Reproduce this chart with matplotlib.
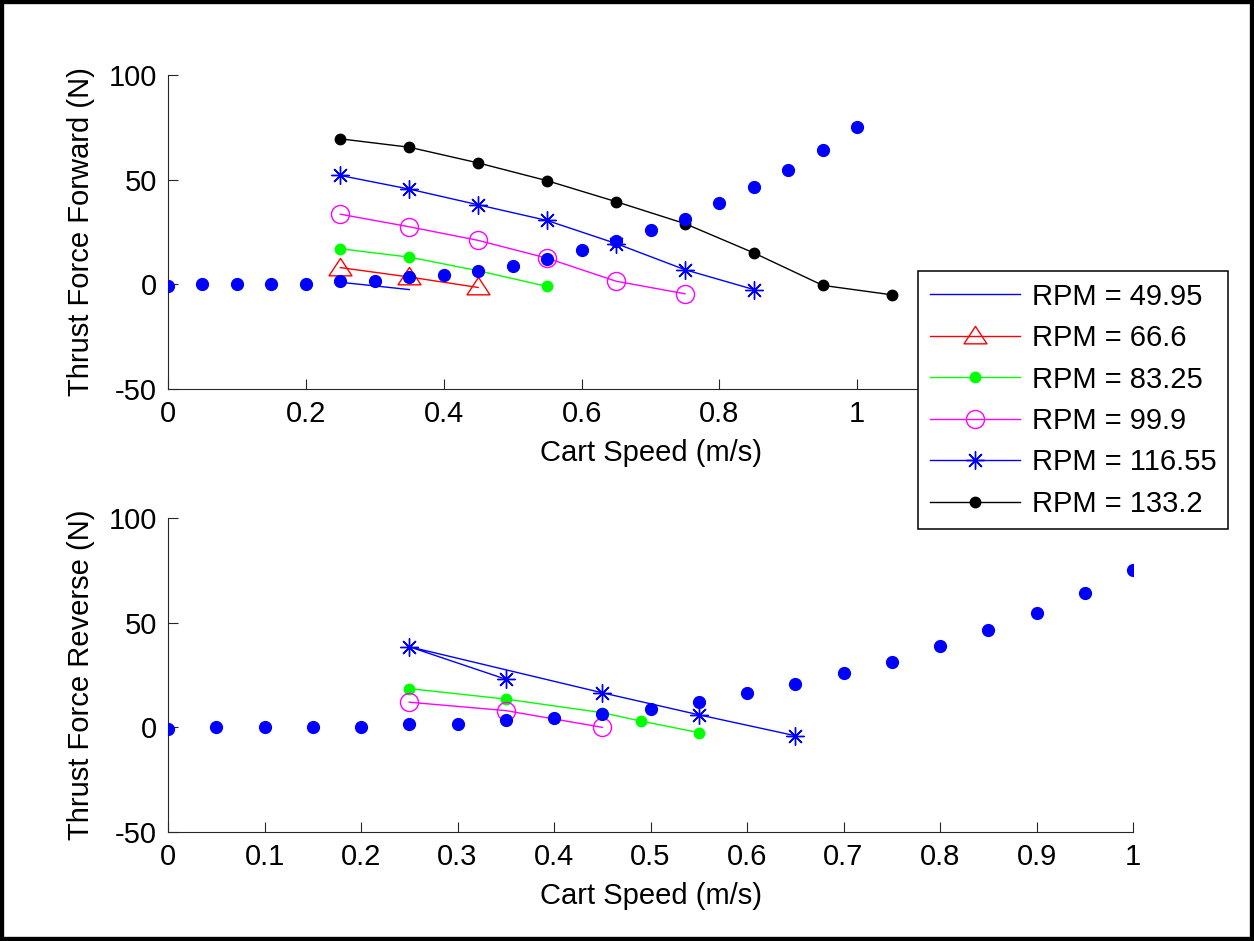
import matplotlib
matplotlib.use("Agg")
import matplotlib.pyplot as plt
from matplotlib.path import Path
from matplotlib.patches import Rectangle
from matplotlib.ticker import FuncFormatter

plt.rcParams["font.family"] = ["Liberation Sans", "DejaVu Sans"]
plt.rcParams["font.size"] = 21

# blue dotted reference curve (same on both panels)
model_speed = [0.0, 0.05, 0.1, 0.15, 0.2, 0.25, 0.3, 0.35, 0.4, 0.45, 0.5,
               0.55, 0.6, 0.65, 0.7, 0.75, 0.8, 0.85, 0.9, 0.95, 1.0]
model_thrust = [-1, 0, 0, 0, 0, 1.5, 1.5, 3.5, 4.5, 6.5, 8.8,
                12, 16.2, 20.8, 26, 31.3, 38.8, 46.3, 54.8, 64.3, 75.3]

rpm_labels = ["RPM = 49.95", "RPM = 66.6", "RPM = 83.25",
              "RPM = 99.9", "RPM = 116.55", "RPM = 133.2"]

# forward thrust, one pair of lists per rpm
fwd_x_4995 = [0.25, 0.35]
fwd_y_4995 = [1.0, -2.5]
fwd_x_666 = [0.25, 0.35, 0.45]
fwd_y_666 = [8.0, 3.5, -1.5]
fwd_x_8325 = [0.25, 0.35, 0.45, 0.55]
fwd_y_8325 = [17.0, 13.0, 6.5, -1.0]
fwd_x_999 = [0.25, 0.35, 0.45, 0.55, 0.65, 0.75]
fwd_y_999 = [33.5, 27.5, 21.0, 12.5, 1.5, -4.5]
fwd_x_11655 = [0.25, 0.35, 0.45, 0.55, 0.65, 0.75, 0.85]
fwd_y_11655 = [52.0, 45.5, 38.0, 30.5, 19.5, 7.0, -2.5]
fwd_x_1332 = [0.25, 0.35, 0.45, 0.55, 0.65, 0.75, 0.85, 0.95, 1.05]
fwd_y_1332 = [69.5, 65.5, 58.0, 49.5, 39.5, 29.0, 15.0, -0.5, -5.0]

# reverse thrust
rev_x_8325 = [0.25, 0.35, 0.45, 0.49, 0.55]
rev_y_8325 = [18.5, 13.5, 7.0, 3.0, -2.5]
rev_x_999 = [0.25, 0.35, 0.45]
rev_y_999 = [12.0, 8.0, 0.0]
rev_x_11655 = [0.35, 0.25, 0.45, 0.55, 0.65]
rev_y_11655 = [23.0, 38.5, 16.5, 6.0, -4.0]

# wide matlab-ish triangle
tri = Path([(-1.25, -0.8), (0, 1.1), (1.25, -0.8), (-1.25, -0.8)],
           [Path.MOVETO, Path.LINETO, Path.LINETO, Path.CLOSEPOLY])
asterisk = (8, 2, 0)

LW = 1.0
MAG = "#ff00ff"
GRN = "#00ff00"
styles = [
    dict(color="b", lw=LW),
    dict(color="r", lw=LW, marker=tri, ms=16.5, mfc="none", mec="r", mew=1.0),
    dict(color=GRN, lw=LW, marker="o", ms=7.5, mfc=GRN, mec=GRN),
    dict(color=MAG, lw=LW, marker="o", ms=13, mfc="none", mec=MAG, mew=1.0),
    dict(color="b", lw=LW, marker=asterisk, ms=13, mec="b", mew=1.0),
    dict(color="k", lw=LW, marker="o", ms=7.5, mfc="k", mec="k"),
]

W, H = 1254, 941
fig = plt.figure(figsize=(W / 100, H / 100), dpi=100)
ax_f = fig.add_axes([168 / W, 1 - 389 / H, 965 / W, 314 / H])
ax_r = fig.add_axes([168 / W, 1 - 832 / H, 965 / W, 314 / H])


def style_axis(ax, xmax, xstep, ylabel, show_max):
    ax.set_xlim(0, xmax)
    ax.set_ylim(-50, 100)
    n = int(round(xmax / xstep))
    ticks = [round(i * xstep, 2) for i in range(n + 1)]
    ax.set_xticks(ticks)
    # labels past show_max sit under the legend in the original
    ax.set_xticklabels([f"{t:g}" if t <= show_max + 1e-9 else "" for t in ticks])
    ax.set_yticks([-50, 0, 50, 100])
    ax.yaxis.set_major_formatter(FuncFormatter(lambda v, p: f"{v:g}"))
    for s in ["top", "right"]:
        ax.spines[s].set_visible(False)
    for s in ["left", "bottom"]:
        ax.spines[s].set_linewidth(0.8)
        ax.spines[s].set_color("#262626")
    ax.tick_params(direction="in", length=7, width=0.8, color="#262626")
    ax.tick_params(axis="x", pad=8)
    ax.tick_params(axis="y", pad=8)
    ax.set_xlabel("Cart Speed (m/s)", labelpad=8)
    ax.set_ylabel(ylabel, labelpad=10)
    ax.patch.set_alpha(0)


# top panel
handles = []
fwd = [(fwd_x_4995, fwd_y_4995), (fwd_x_666, fwd_y_666), (fwd_x_8325, fwd_y_8325),
       (fwd_x_999, fwd_y_999), (fwd_x_11655, fwd_y_11655), (fwd_x_1332, fwd_y_1332)]
for (xs, ys), st, lab in zip(fwd, styles, rpm_labels):
    h, = ax_f.plot(xs, ys, label=lab, **st)
    handles.append(h)
ax_f.plot(model_speed, model_thrust, "o", color="b", ms=8.5, mec="b", zorder=3)
style_axis(ax_f, 1.4, 0.2, "Thrust Force Forward (N)", 1.0)

# bottom panel
rev = [(rev_x_8325, rev_y_8325, styles[2]), (rev_x_999, rev_y_999, styles[3]),
       (rev_x_11655, rev_y_11655, styles[4])]
for xs, ys, st in rev:
    ax_r.plot(xs, ys, **st)
ax_r.plot(model_speed, model_thrust, "o", color="b", ms=8.5, mec="b", zorder=3)
style_axis(ax_r, 1.0, 0.1, "Thrust Force Reverse (N)", 1.0)

leg = fig.legend(handles, rpm_labels, loc="upper left",
                 bbox_to_anchor=(918 / W, 1 - 271 / H), fancybox=False,
                 framealpha=1, edgecolor="k", handlelength=3.1,
                 handletextpad=0.4, labelspacing=0.46, borderpad=0.4,
                 borderaxespad=0)
leg.get_frame().set_linewidth(1.1)

# figure border
fig.add_artist(Rectangle((0, 0), 1, 1, transform=fig.transFigure, fill=False,
                         lw=6, edgecolor="k"))

fig.savefig("out.png", dpi=100)
